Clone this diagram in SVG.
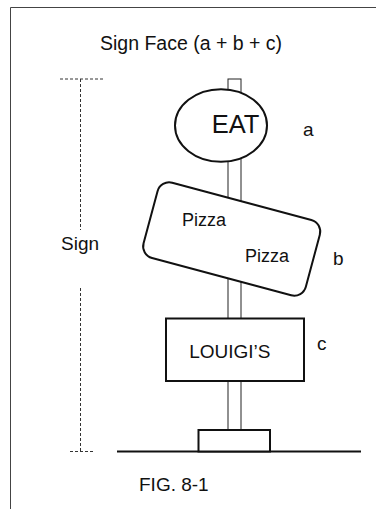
<svg xmlns="http://www.w3.org/2000/svg" width="376" height="509" viewBox="0 0 376 509">
<style>
text{font-family:"Liberation Sans",Arial,sans-serif;fill:#111}
.shape{fill:#fff;stroke:#111;stroke-width:2}
.dash{fill:none;stroke:#333;stroke-width:1;stroke-dasharray:3 2}
.thin{fill:#fff;stroke:#222;stroke-width:1}
</style>
<rect width="376" height="509" fill="#fff"/>
<g id="frame"><path d="M10.5 509 V7.5 H376" fill="none" stroke="#444" stroke-width="1"/></g>
<text x="191" y="50" font-size="19.5" text-anchor="middle">Sign Face (a + b + c)</text>
<g id="dimension">
<path class="dash" d="M60 79 H103 M80.5 79 V230 M80.5 288 V452 M70 451.5 H93"/>
<text x="80" y="250" font-size="19" text-anchor="middle">Sign</text>
</g>
<g id="connectors">
<rect id="pole" class="thin" x="228" y="79" width="13" height="351"/>
<line x1="117" y1="451.5" x2="361" y2="451.5" stroke="#111" stroke-width="2"/>
</g>
<g id="base"><rect class="shape" x="198.5" y="430" width="71.5" height="21.5"/></g>
<g id="sign-a">
<ellipse class="shape" cx="221" cy="125.5" rx="46" ry="36.3"/>
<text x="235.5" y="132.5" font-size="25.5" text-anchor="middle">EAT</text>
<text x="303" y="136" font-size="19">a</text>
</g>
<g id="sign-b">
<rect class="shape" x="-84" y="-39" width="168" height="78" rx="12" transform="translate(231.7 239) rotate(15)"/>
<text x="182" y="225.5" font-size="18">Pizza</text>
<text x="245" y="261.5" font-size="18">Pizza</text>
<text x="333" y="265" font-size="19">b</text>
</g>
<g id="sign-c">
<rect class="shape" x="166" y="318.5" width="138" height="62.5"/>
<text x="229.8" y="358.3" font-size="19" text-anchor="middle">LOUIGI’S</text>
<text x="317" y="350" font-size="19">c</text>
</g>
<text x="139" y="490.7" font-size="19">FIG. 8-1</text>
</svg>
